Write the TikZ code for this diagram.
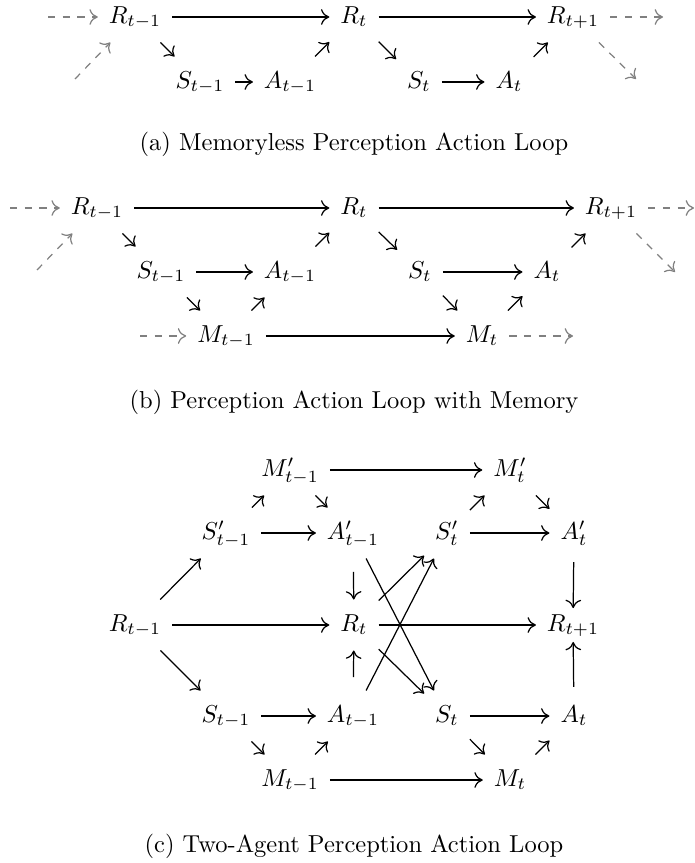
\documentclass[tikz,border=0pt]{standalone}
\usetikzlibrary{arrows.meta}
\begin{document}
\begin{tikzpicture}[
    x=0.408pt, y=-0.408pt,
    var/.style={inner xsep=1ex, inner ysep=3.7pt, text height=9pt, text depth=4pt},
    flow/.style={-{To[length=3.4pt, width=6.4pt]}, line width=0.5pt},
    hint/.style={-{To[length=3.4pt, width=6.4pt]}, line width=0.5pt, dashed, gray},
    caption/.style={anchor=base}
]
\useasboundingbox (0,0) rectangle (695,863);

% (a) memoryless loop
\node[var] (aR0) at (135,17) {$R_{t-1}$};
\node[var] (aR1) at (354,17) {$R_t$};
\node[var] (aR2) at (573,17) {$R_{t+1}$};
\node[var] (aS0) at (200,82) {$S_{t-1}$};
\node[var] (aA0) at (290,82) {$A_{t-1}$};
\node[var] (aS1) at (419,82) {$S_t$};
\node[var] (aA1) at (509,82) {$A_t$};
\coordinate (aIn) at (48,17);
\coordinate (aInD) at (75,79);
\coordinate (aOut) at (663,17);
\coordinate (aOutD) at (636,79);
\draw[flow] (aR0) -- (aR1);
\draw[flow] (aR1) -- (aR2);
\draw[flow] (aR0) -- (aS0);
\draw[flow] (aS0) -- (aA0);
\draw[flow] (aA0) -- (aR1);
\draw[flow] (aR1) -- (aS1);
\draw[flow] (aS1) -- (aA1);
\draw[flow] (aA1) -- (aR2);
\draw[hint] (aIn) -- (aR0);
\draw[hint] (aInD) -- (aR0);
\draw[hint] (aR2) -- (aOut);
\draw[hint] (aR2) -- (aOutD);
\node[caption] (capA) at (354,151) {(a) Memoryless Perception Action Loop};

% (b) loop with memory
\node[var] (bR0) at (97,208) {$R_{t-1}$};
\node[var] (bR1) at (354,208) {$R_t$};
\node[var] (bR2) at (611,208) {$R_{t+1}$};
\node[var] (bS0) at (161,272) {$S_{t-1}$};
\node[var] (bA0) at (290,272) {$A_{t-1}$};
\node[var] (bS1) at (420,272) {$S_t$};
\node[var] (bA1) at (547,272) {$A_t$};
\node[var] (bM0) at (226,336) {$M_{t-1}$};
\node[var] (bM1) at (482,336) {$M_t$};
\coordinate (bIn) at (10,208);
\coordinate (bInD) at (37,270);
\coordinate (bOut) at (694,208);
\coordinate (bOutD) at (675,272);
\coordinate (bMIn) at (140,336);
\coordinate (bMOut) at (573,336);
\draw[flow] (bR0) -- (bR1);
\draw[flow] (bR1) -- (bR2);
\draw[flow] (bR0) -- (bS0);
\draw[flow] (bS0) -- (bA0);
\draw[flow] (bS0) -- (bM0);
\draw[flow] (bM0) -- (bA0);
\draw[flow] (bA0) -- (bR1);
\draw[flow] (bM0) -- (bM1);
\draw[flow] (bR1) -- (bS1);
\draw[flow] (bS1) -- (bA1);
\draw[flow] (bS1) -- (bM1);
\draw[flow] (bM1) -- (bA1);
\draw[flow] (bA1) -- (bR2);
\draw[hint] (bIn) -- (bR0);
\draw[hint] (bInD) -- (bR0);
\draw[hint] (bR2) -- (bOut);
\draw[hint] (bR2) -- (bOutD);
\draw[hint] (bMIn) -- (bM0);
\draw[hint] (bM1) -- (bMOut);
\node[caption] (capB) at (354,408) {(b) Perception Action Loop with Memory};

% (c) two agents
\node[var] (cR0) at (135,625) {$R_{t-1}$};
\node[var] (cR1) at (354,625) {$R_t$};
\node[var] (cR2) at (573,625) {$R_{t+1}$};
\node[var] (cP0) at (226,533) {$S'_{t-1}$};
\node[var] (cB0) at (353,533) {$A'_{t-1}$};
\node[var] (cN0) at (290,470) {$M'_{t-1}$};
\node[var] (cP1) at (447,533) {$S'_t$};
\node[var] (cB1) at (574,533) {$A'_t$};
\node[var] (cN1) at (510,470) {$M'_t$};
\node[var] (cS0) at (226,716) {$S_{t-1}$};
\node[var] (cA0) at (353,716) {$A_{t-1}$};
\node[var] (cM0) at (290,780) {$M_{t-1}$};
\node[var] (cS1) at (447,716) {$S_t$};
\node[var] (cA1) at (574,716) {$A_t$};
\node[var] (cM1) at (510,780) {$M_t$};
\draw[flow] (cR0) -- (cR1);
\draw[flow] (cR1) -- (cR2);
\draw[flow] (cR0) -- (cP0);
\draw[flow] (cR0) -- (cS0);
\draw[flow] (cP0) -- (cB0);
\draw[flow] (cP0) -- (cN0);
\draw[flow] (cN0) -- (cB0);
\draw[flow] (cN0) -- (cN1);
\draw[flow] (cS0) -- (cA0);
\draw[flow] (cS0) -- (cM0);
\draw[flow] (cM0) -- (cA0);
\draw[flow] (cM0) -- (cM1);
\draw[flow, shorten <=5.5pt] (cB0) -- (cR1);
\draw[flow, shorten <=5.5pt] (cA0) -- (cR1);
\draw[flow] (cR1) -- (cP1);
\draw[flow] (cR1) -- (cS1);
\draw[flow] (cB0) -- (cS1);
\draw[flow] (cA0) -- (cP1);
\draw[flow] (cP1) -- (cB1);
\draw[flow] (cP1) -- (cN1);
\draw[flow] (cN1) -- (cB1);
\draw[flow, shorten <=1.5pt, shorten >=-3.5pt] (cB1) -- (cR2);
\draw[flow] (cS1) -- (cA1);
\draw[flow] (cS1) -- (cM1);
\draw[flow] (cM1) -- (cA1);
\draw[flow, shorten <=1.5pt, shorten >=-3.5pt] (cA1) -- (cR2);
\node[caption] (capC) at (354,852) {(c) Two-Agent Perception Action Loop};
\end{tikzpicture}
\end{document}
